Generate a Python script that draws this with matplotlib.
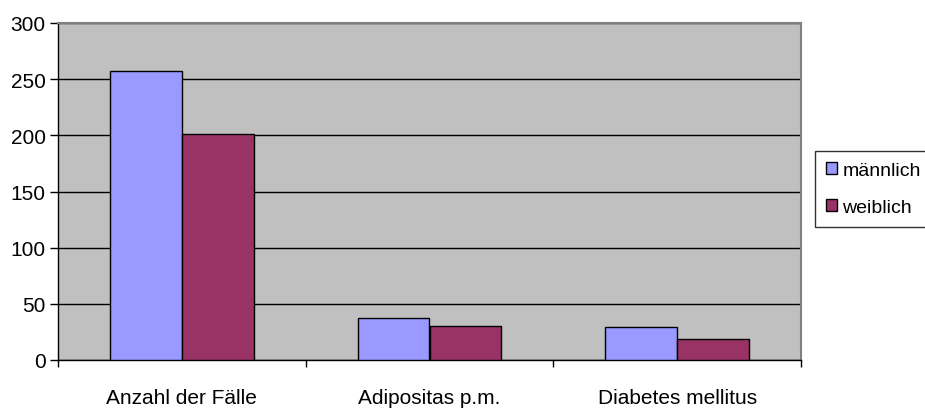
import matplotlib.pyplot as plt
import numpy as np

plt.rcParams['font.family'] = ['Liberation Sans', 'DejaVu Sans']

categories = ["Anzahl der Fälle", "Adipositas p.m.", "Diabetes mellitus"]
maennlich = [257, 37, 29]
weiblich = [201, 30, 19]
series_names = ["männlich", "weiblich"]

fig = plt.figure(figsize=(9.25, 4.1), dpi=100)
ax = fig.add_axes([58 / 925, 49 / 410, 743 / 925, 337 / 410])
ax.set_facecolor('#C0C0C0')

x = np.arange(len(categories))
w = 0.29
ax.bar(x - w / 2, maennlich, w, color='#9999FF', edgecolor='black', linewidth=1,
       label=series_names[0], zorder=3)
ax.bar(x + w / 2, weiblich, w, color='#993366', edgecolor='black', linewidth=1,
       label=series_names[1], zorder=3)

ax.set_xlim(-0.5, len(categories) - 0.5)
ax.set_ylim(0, 300)
ax.set_yticks(np.arange(0, 301, 50))
ax.yaxis.grid(True, color='black', linewidth=1, zorder=1)
ax.set_axisbelow(True)

# category boundaries carry the tick marks, labels sit between them
ax.set_xticks(np.arange(-0.5, len(categories), 1))
ax.set_xticklabels([])
ax.set_xticks(x, minor=True)
ax.set_xticklabels(categories, minor=True)
ax.tick_params(axis='x', which='minor', length=0, pad=20, labelsize=15)
ax.tick_params(axis='x', which='major', length=5, direction='out', width=1)
ax.tick_params(axis='y', length=6, direction='out', width=1, labelsize=15, pad=3)

for s in ['top', 'right']:
    ax.spines[s].set_color('#808080')
    ax.spines[s].set_linewidth(1.5)
for s in ['left', 'bottom']:
    ax.spines[s].set_color('black')
    ax.spines[s].set_linewidth(1)

leg = fig.legend(loc='upper left', bbox_to_anchor=(815 / 925, 1 - 152 / 410),
                 frameon=True, fancybox=False, edgecolor='black', fontsize=14,
                 handlelength=0.6, handleheight=0.6, handletextpad=0.25,
                 borderpad=0.55, labelspacing=1.05, borderaxespad=0)
leg.get_frame().set_linewidth(1)
for h in leg.legend_handles:
    h.set_linewidth(1)

fig.savefig('out.png', dpi=100)
